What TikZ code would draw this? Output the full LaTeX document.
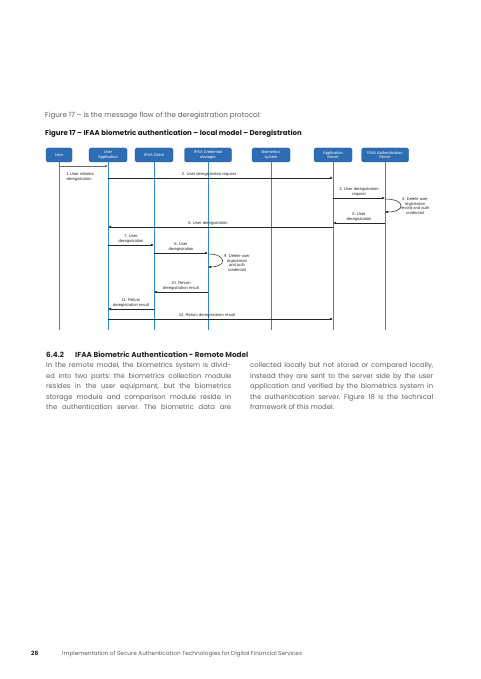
\documentclass[tikz,border=0pt]{standalone}
\usepackage{fontspec}
\setmainfont{Poppins}
\newfontfamily\dfont{Liberation Sans}
\usetikzlibrary{arrows.meta,calc}
\definecolor{boxblue}{RGB}{46,109,180}
\definecolor{lifeblue}{RGB}{52,136,204}
\definecolor{bodygray}{RGB}{95,95,95}
\definecolor{headdark}{RGB}{40,40,40}
\frenchspacing
\begin{document}
\begin{tikzpicture}[x=1pt,y=-1pt,
  actor/.style={draw=boxblue!80!black, line width=0.3pt, fill=boxblue, rounded corners=1.5pt,
    minimum height=14pt, inner sep=0.5pt, align=center, text=white,
    font=\dfont\fontsize{4}{4.6}\selectfont},
  life/.style={draw=lifeblue, line width=0.9pt},
  msg/.style={draw=black!85, line width=0.5pt, -{Latex[length=3pt,width=2.6pt]}},
  lbl/.style={font=\dfont\fontsize{4.1}{4.7}\selectfont, inner sep=0.5pt, align=center, text=black!85},
  body/.style={anchor=base west, inner sep=0, text=bodygray, font=\frenchspacing\fontsize{6.8}{8}\selectfont},
  head/.style={anchor=base west, inner sep=0, text=headdark, font=\bfseries\fontsize{7.25}{8}\selectfont},
]
\useasboundingbox (0,0) rectangle (480,679);
\fill[white] (0,0) rectangle (480,679);

% top texts
\node[body, font=\fontsize{7.1}{8}\selectfont] (intro) at (45,117.5) {Figure 17 -- is the message flow of the deregistration protocol:};
\node[anchor=base west, inner sep=0, text=black!90, font=\bfseries\fontsize{7}{8}\selectfont] (cap) at (45,135.5)
  {Figure 17 -- IFAA biometric authentication -- local model -- Deregistration};

% actors
\node[actor, minimum width=26pt] (user) at (59,155) {User};
\node[actor, minimum width=38pt] (uapp) at (108,155) {User\\Application};
\node[actor, minimum width=38pt] (client) at (154,155) {IFAA Client};
\node[actor, minimum width=47pt] (cred) at (208,155) {IFAA Credential\\manager};
\node[actor, minimum width=38pt] (bio) at (271,155) {Biometrics\\system};
\node[actor, minimum width=38pt] (asrv) at (333,155) {Application\\Server};
\node[actor, minimum width=47pt] (auth) at (385,155) {IFAA Authentication\\Server};

% lifelines
\coordinate (lend) at (0,330);
\foreach \a in {user,uapp,client,cred,bio,asrv,auth}
  \draw[life] (\a) -- (\a |- lend);

% message y positions
\coordinate (m1) at (0,166);
\coordinate (m2) at (0,178);
\coordinate (m3) at (0,198);
\coordinate (s4a) at (0,199);
\coordinate (s4b) at (0,212);
\coordinate (m5) at (0,223);
\coordinate (m6) at (0,227);
\coordinate (m7) at (0,245);
\coordinate (m8) at (0,253);
\coordinate (s9a) at (0,254);
\coordinate (s9b) at (0,267);
\coordinate (m10) at (0,292);
\coordinate (m11) at (0,309);
\coordinate (m12) at (0,319);

% messages
\draw[msg, draw=black!60, line width=0.9pt] (user |- m1) -- (uapp |- m1);
\node[lbl, align=left, anchor=north west] (l1) at (66,172) {1.User initiates\\deregistration};

\draw[msg] (uapp |- m2) -- (asrv |- m2);
\node[lbl, anchor=south] (l2) at (209,177) {2. User deregistration request};

\draw[msg] (asrv |- m3) -- (auth |- m3);
\node[lbl, anchor=south] (l3) at (359,197) {3. User deregistration\\request};

\draw[msg] (auth |- s4a) .. controls +(21,0) and +(21,0) .. (auth |- s4b);
\node[lbl] (l4) at (415,206) {4. Delete user\\registration\\record and auth\\credential};

\draw[msg] (auth |- m5) -- (asrv |- m5);
\node[lbl, anchor=south] (l5) at (359,222) {5. User\\deregistration};

\draw[msg] (asrv |- m6) -- (uapp |- m6);
\node[lbl, anchor=south] (l6) at (208,226) {6. User deregistration};

\draw[msg] (uapp |- m7) -- (client |- m7);
\node[lbl, anchor=south] (l7) at (131,244) {7. User\\deregistration};

\draw[msg] (client |- m8) -- (cred |- m8);
\node[lbl, anchor=south] (l8) at (181,252) {8. User\\deregistration};

\draw[msg] (cred |- s9a) .. controls +(19,0) and +(19,0) .. (cred |- s9b);
\node[lbl] (l9) at (237,263) {9. Delete user\\registration\\and auth\\credential};

\draw[msg] (cred |- m10) -- (client |- m10);
\node[lbl, anchor=south] (l10) at (181,291) {10. Return\\deregistration result};

\draw[msg] (client |- m11) -- (uapp |- m11);
\node[lbl, anchor=south] (l11) at (131,308) {11. Return\\deregistration result};

\draw[msg] (uapp |- m12) -- (asrv |- m12);
\node[lbl, anchor=south] (l12) at (207,318) {12. Return deregistration result};

% section heading
\node[head] (secnum) at (46,357) {6.4.2};
\node[head] (sectitle) at (75,357) {IFAA Biometric Authentication - Remote Model};

% left column
\node[body] (a1) at (46,367.8) {\makebox[185pt][s]{In the remote model, the biometrics system is divid-}};
\node[body] (a2) at (46,378.3) {\makebox[185pt][s]{ed into two parts: the biometrics collection module}};
\node[body] (a3) at (46,388.8) {\makebox[185pt][s]{resides in the user equipment, but the biometrics}};
\node[body] (a4) at (46,399.3) {\makebox[185pt][s]{storage module and comparison module reside in}};
\node[body] (a5) at (46,409.8) {\makebox[185pt][s]{the authentication server. The biometric data are}};
% right column
\node[body] (b1) at (250,367.8) {\makebox[183pt][s]{collected locally but not stored or compared locally,}};
\node[body] (b2) at (250,378.3) {\makebox[183pt][s]{instead they are sent to the server side by the user}};
\node[body] (b3) at (250,388.8) {\makebox[183pt][s]{application and verified by the biometrics system in}};
\node[body] (b4) at (250,399.3) {\makebox[183pt][s]{the authentication server. Figure 18 is the technical}};
\node[body] (b5) at (250,409.8) {framework of this model.};

% footer
\node[anchor=base west, inner sep=0, text=headdark, font=\bfseries\fontsize{5.8}{6}\selectfont] (pnum) at (31,655) {28};
\node[anchor=base west, inner sep=0, text=bodygray, font=\fontsize{5.75}{6}\selectfont] (foot) at (62,655)
  {Implementation of Secure Authentication Technologies for Digital Financial Services};
\end{tikzpicture}
\end{document}
